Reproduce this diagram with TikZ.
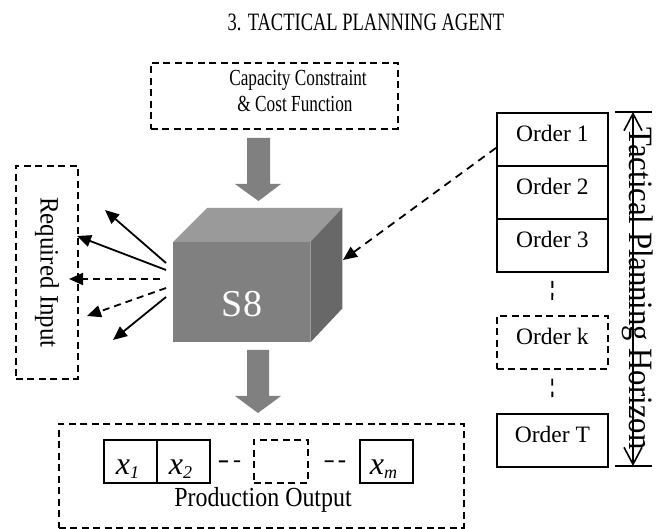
\documentclass[tikz,border=0pt]{standalone}
\usepackage{fontspec}
\usepackage{graphicx}
\setmainfont{Liberation Serif}
\usetikzlibrary{arrows.meta,calc}

\definecolor{facefront}{HTML}{808080}
\definecolor{facetop}{HTML}{9A9A9A}
\definecolor{faceside}{HTML}{686868}
\definecolor{blockgray}{HTML}{808080}

\newcommand{\fs}[1]{\fontsize{#1}{#1}\selectfont}
\newcommand{\xsub}[1]{\textit{x}\raisebox{-4pt}{\fs{18}\textit{#1}}}

\begin{document}
\begin{tikzpicture}[x=1pt,y=-1pt,
  dashbox/.style={draw, line width=1.6pt, dash pattern=on 7pt off 4.5pt,
                  inner sep=0pt, anchor=north west},
  solidbox/.style={draw, line width=1.8pt, inner sep=0pt, anchor=north west},
  lbl/.style={inner sep=0pt, anchor=base},
  orderbox/.style={solidbox, minimum width=111pt, minimum height=53pt},
  xbox/.style={solidbox, minimum width=53pt, minimum height=43pt},
  fan/.style={line width=1.8pt, -{Triangle[length=14pt,width=12pt]}},
  fandash/.style={fan, dash pattern=on 7pt off 5pt},
  gap/.style={line width=1.8pt, dash pattern=on 9pt off 6pt},
  block/.style={fill=blockgray, draw=none}
]
\useasboundingbox (0,0) rectangle (667,529);

% heading
\node[lbl] (title) at (366,31)
  {\scalebox{0.74}[1]{\fs{25}3. TACTICAL PLANNING AGENT}};

% constraint box on top
\node[dashbox, minimum width=247pt, minimum height=66pt] (cap) at (150,62) {};
\node[lbl] (capA) at (298,86)
  {\scalebox{0.75}[1]{\fs{23}Capacity Constraint}};
\node[lbl] (capB) at (295,112)
  {\scalebox{0.75}[1]{\fs{23}\& Cost Function}};

% block arrow into the cube
\fill[block] (247,138) -- (270,138) -- (270,184) -- (281,184) -- (258.5,201)
  -- (235,184) -- (247,184) -- cycle;

% the S8 cube
\node[fill=facefront, minimum width=137pt, minimum height=100pt,
      inner sep=0pt, anchor=north west] (cube) at (173,242) {};
\fill[facetop] (cube.north west) -- ($(cube.north west)+(34,-34)$)
  -- ($(cube.north east)+(32,-34)$) -- (cube.north east) -- cycle;
\fill[faceside] (cube.north east) -- ($(cube.north east)+(32,-34)$)
  -- ($(cube.south east)+(32,-34)$) -- (cube.south east) -- cycle;
\node[lbl, text=white] (s8) at (242,317) {\fs{38}S8};

% block arrow out of the cube
\fill[block] (247,350) -- (269,350) -- (269,396) -- (281,396) -- (258,413)
  -- (235,396) -- (247,396) -- cycle;

% required input box and the fan of arrows
\node[dashbox, minimum width=62pt, minimum height=213pt] (req) at (15,165) {};
\node[lbl, rotate=-90] (reqtxt) at (40.7,272.5)
  {\scalebox{1}[1.06]{\fs{25}Required Input}};

\coordinate (s1) at (166,263); \coordinate (t1) at (105,210);
\coordinate (s2) at (166,270); \coordinate (t2) at (77,236);
\coordinate (s3) at (160,279); \coordinate (t3) at (69,279);
\coordinate (s4) at (166,288); \coordinate (t4) at (87,316);
\coordinate (s5) at (166,297); \coordinate (t5) at (113,340);
\draw[fan] (s1) -- (t1);
\draw[fan] (s2) -- (t2);
\draw[fandash] (s3) -- (t3);
\draw[fandash] (s4) -- (t4);
\draw[fan] (s5) -- (t5);

% production output
\node[dashbox, minimum width=405pt, minimum height=104pt] (prod) at (58,423) {};
\node[xbox] (x1) at (103,439) {};
\node[xbox] (x2) at (156,439) {};
\node[dashbox, minimum width=54pt, minimum height=43pt] (xe) at (253,439) {};
\node[xbox] (xm) at (359,439) {};
\node[lbl] at ($(x1.south)+(-3,-9)$) {\fs{32}\xsub{1}};
\node[lbl] at ($(x2.south)+(-3,-9)$) {\fs{32}\xsub{2}};
\node[lbl] at ($(xm.south)+(-3,-9)$) {\fs{32}\xsub{m}};
\draw[gap, shorten <=8pt, shorten >=13pt] (x2.east) -- (xe.west);
\draw[gap, dash pattern=on 9pt off 5pt, shorten <=16pt, shorten >=14pt]
  (xe.east) -- (xm.west);
\node[lbl] (prodtxt) at (263,506.7)
  {\scalebox{0.92}[1.06]{\fs{26}Production Output}};

% order column
\node[orderbox] (o1) at (496,112) {};
\node[orderbox] (o2) at (496,165) {};
\node[orderbox] (o3) at (496,218) {};
\node[dashbox, minimum width=111pt, minimum height=53pt] (ok) at (496,315) {};
\node[orderbox] (oT) at (496,413) {};
\foreach \n/\t in {o1/Order 1, o2/Order 2, o3/Order 3, ok/Order k, oT/Order T}
  \node[lbl] at ($(\n.north)+(0,29.5)$) {\fs{23.5}\t};
\draw[gap, dash pattern=on 7pt off 5pt, shorten <=8pt, shorten >=12pt]
  (o3.south) -- (ok.north);
\draw[gap, dash pattern=on 7pt off 6pt, shorten <=9pt, shorten >=16pt]
  (ok.south) -- (oT.north);

% order feeding the cube
\coordinate (cubeport) at (343,260);
\draw[fandash, dash pattern=on 8pt off 6pt] ($(o1.west)+(0,8.5)$) -- (cubeport);

% planning horizon
\coordinate (hzt) at (633,112);
\coordinate (hzb) at (633,466);
\draw[line width=1.6pt] (615,112) -- (652,112);
\draw[line width=1.6pt] (615,466) -- (652,466);
\draw[line width=1.6pt, {Straight Barb[length=17pt,width=18pt]}-{Straight Barb[length=17pt,width=18pt]}]
  (hzt) -- (hzb);
\node[lbl, rotate=-90] (hztxt) at (629,288.5)
  {\scalebox{0.99}[1.1]{\fs{31}Tactical Planning Horizon}};
\end{tikzpicture}
\end{document}
